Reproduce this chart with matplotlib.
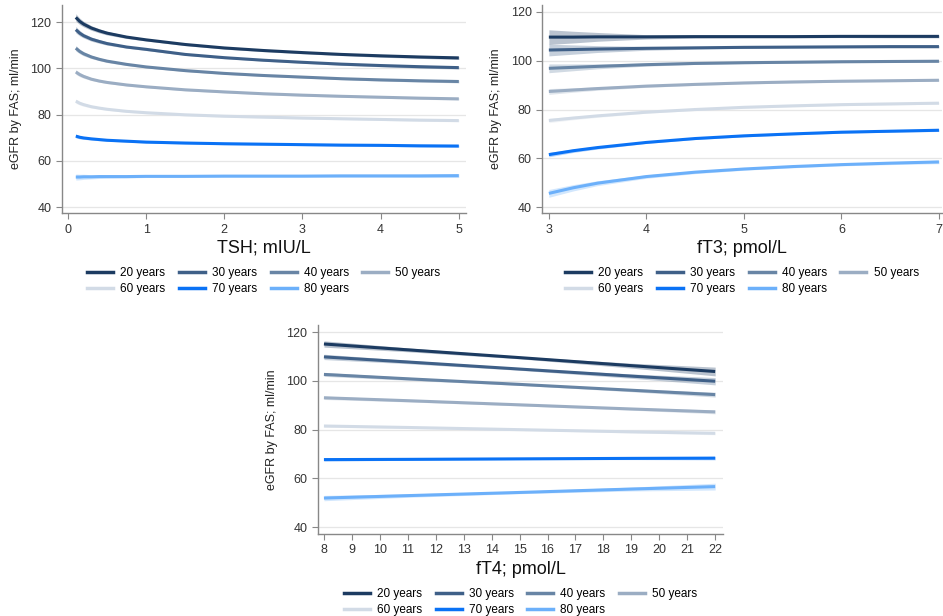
import numpy as np
import matplotlib.pyplot as plt
from matplotlib.lines import Line2D

ages = ['20 years', '30 years', '40 years', '50 years', '60 years', '70 years', '80 years']
colors = ['#1c3b61', '#3f6088', '#6885a5', '#9badc3', '#d2dbe6', '#0a72f5', '#6cb0fa']

# TSH panel
tsh_x = [0.1, 0.15, 0.2, 0.3, 0.4, 0.5, 0.75, 1, 1.5, 2, 2.5, 3, 3.5, 4, 4.5, 5]
tsh_fit = [
    [122.0, 120.3, 119.1, 117.4, 116.2, 115.2, 113.5, 112.3, 110.3, 108.8, 107.7, 106.8, 106.0, 105.4, 104.9, 104.5],
    [116.7, 115.2, 114.1, 112.6, 111.6, 110.7, 109.2, 108.2, 106.0, 104.6, 103.5, 102.6, 101.8, 101.2, 100.7, 100.3],
    [108.7, 107.3, 106.3, 104.9, 103.9, 103.1, 101.7, 100.6, 99.0, 97.8, 96.9, 96.2, 95.5, 95.0, 94.6, 94.3],
    [98.4, 97.3, 96.5, 95.3, 94.5, 93.9, 92.8, 92.0, 90.7, 89.8, 89.0, 88.4, 87.9, 87.5, 87.1, 86.8],
    [85.8, 84.9, 84.3, 83.4, 82.8, 82.3, 81.4, 80.8, 79.9, 79.3, 78.9, 78.5, 78.2, 77.9, 77.6, 77.4],
    [70.7, 70.2, 69.9, 69.5, 69.2, 68.9, 68.5, 68.1, 67.7, 67.4, 67.2, 67.0, 66.8, 66.7, 66.5, 66.4],
    [53.0, 53.0, 53.1, 53.1, 53.2, 53.2, 53.2, 53.3, 53.3, 53.4, 53.4, 53.4, 53.5, 53.5, 53.5, 53.6],
]
tsh_ci = [
    [1.6, 1.4, 1.2, 1.0, 0.9, 0.8, 0.6, 0.5, 0.5, 0.5, 0.5, 0.5, 0.5, 0.6, 0.6, 0.7],
    [1.4, 1.2, 1.0, 0.9, 0.8, 0.7, 0.5, 0.5, 0.4, 0.4, 0.4, 0.4, 0.5, 0.5, 0.6, 0.6],
    [1.2, 1.0, 0.9, 0.7, 0.6, 0.6, 0.5, 0.4, 0.4, 0.4, 0.4, 0.4, 0.4, 0.5, 0.5, 0.6],
    [1.0, 0.9, 0.8, 0.6, 0.5, 0.5, 0.4, 0.4, 0.4, 0.4, 0.4, 0.4, 0.4, 0.4, 0.5, 0.5],
    [0.9, 0.8, 0.7, 0.6, 0.5, 0.5, 0.4, 0.4, 0.4, 0.4, 0.4, 0.4, 0.4, 0.4, 0.5, 0.5],
    [0.8, 0.7, 0.6, 0.5, 0.5, 0.4, 0.4, 0.4, 0.4, 0.4, 0.4, 0.4, 0.4, 0.4, 0.5, 0.5],
    [1.3, 1.2, 1.1, 0.9, 0.8, 0.7, 0.6, 0.5, 0.5, 0.5, 0.5, 0.5, 0.6, 0.6, 0.7, 0.8],
]

# fT3 panel
ft3_x = [3, 3.25, 3.5, 4, 4.5, 5, 5.5, 6, 6.5, 7]
ft3_fit = [
    [109.7, 109.7, 109.8, 109.8, 109.9, 109.9, 109.9, 110.0, 110.0, 110.0],
    [104.4, 104.6, 104.8, 105.1, 105.3, 105.5, 105.6, 105.7, 105.8, 105.8],
    [96.9, 97.3, 97.7, 98.4, 98.9, 99.2, 99.4, 99.6, 99.7, 99.8],
    [87.4, 88.0, 88.6, 89.6, 90.3, 90.9, 91.3, 91.6, 91.8, 92.0],
    [75.5, 76.5, 77.4, 78.9, 80.0, 80.9, 81.5, 82.0, 82.3, 82.6],
    [61.5, 63.1, 64.4, 66.5, 68.1, 69.2, 70.0, 70.7, 71.1, 71.5],
    [45.6, 47.9, 49.8, 52.5, 54.3, 55.6, 56.6, 57.4, 58.0, 58.5],
]
ft3_ci = [
    [3.0, 2.4, 1.8, 0.9, 0.6, 0.5, 0.5, 0.5, 0.6, 0.6],
    [2.4, 1.9, 1.4, 0.8, 0.5, 0.4, 0.4, 0.4, 0.5, 0.5],
    [1.8, 1.4, 1.0, 0.6, 0.4, 0.4, 0.4, 0.4, 0.4, 0.5],
    [1.2, 0.9, 0.7, 0.5, 0.4, 0.4, 0.4, 0.4, 0.4, 0.4],
    [0.9, 0.7, 0.6, 0.4, 0.4, 0.4, 0.4, 0.4, 0.4, 0.4],
    [0.9, 0.7, 0.6, 0.4, 0.4, 0.4, 0.4, 0.4, 0.4, 0.5],
    [1.6, 1.3, 1.0, 0.7, 0.6, 0.5, 0.5, 0.5, 0.6, 0.7],
]

# fT4 panel
ft4_x = [8, 11, 15, 19, 22]
ft4_fit = [
    [115.2, 112.8, 109.6, 106.3, 103.9],
    [109.9, 107.8, 104.9, 102.0, 99.9],
    [102.7, 100.9, 98.6, 96.2, 94.4],
    [93.1, 91.9, 90.2, 88.5, 87.3],
    [81.5, 80.9, 80.0, 79.1, 78.5],
    [67.7, 67.8, 68.0, 68.2, 68.3],
    [51.9, 52.9, 54.2, 55.6, 56.6],
]
ft4_ci = [
    [1.3, 0.8, 0.5, 1.0, 1.8],
    [1.1, 0.7, 0.5, 0.9, 1.5],
    [0.8, 0.6, 0.4, 0.6, 1.0],
    [0.7, 0.5, 0.4, 0.5, 0.8],
    [0.5, 0.4, 0.3, 0.4, 0.6],
    [0.6, 0.4, 0.3, 0.5, 0.7],
    [1.1, 0.7, 0.5, 0.8, 1.4],
]

fig = plt.figure(figsize=(9.43, 6.16), dpi=100)
plt.rcParams['font.family'] = ['Liberation Sans', 'DejaVu Sans']

panels = [
    (tsh_x, tsh_fit, tsh_ci, 'TSH; mIU/L', [0.0657, 0.654, 0.4283, 0.338], (-0.077, 5.09), (37.4, 127.4), [0, 1, 2, 3, 4, 5]),
    (ft3_x, ft3_fit, ft3_ci, 'fT3; pmol/L', [0.5748, 0.654, 0.424, 0.338], (2.93, 7.03), (37.5, 122.9), [3, 4, 5, 6, 7]),
    (ft4_x, ft4_fit, ft4_ci, 'fT4; pmol/L', [0.337, 0.133, 0.43, 0.339], (7.78, 22.29), (37.1, 122.9), list(range(8, 23))),
]

# legend order so that rows read 20,30,40,50 / 60,70,80
leg_order = [0, 4, 1, 5, 2, 6, 3]

for x, fit, ci, xlab, pos, xlim, ylim, xt in panels:
    ax = fig.add_axes(pos)
    for i in range(len(ages)):
        y = np.array(fit[i])
        c = np.array(ci[i])
        ax.fill_between(x, y - c, y + c, color=colors[i], alpha=0.3, lw=0)
        ax.plot(x, y, color=colors[i], lw=2.2, solid_capstyle='butt')
    ax.set_xlim(*xlim)
    ax.set_ylim(*ylim)
    ax.set_yticks([40, 60, 80, 100, 120])
    ax.set_xticks(xt)
    ax.grid(axis='y', color='#e6e6e6', lw=0.9)
    ax.set_axisbelow(True)
    for s in ['top', 'right']:
        ax.spines[s].set_visible(False)
    for s in ['left', 'bottom']:
        ax.spines[s].set_color('#888888')
        ax.spines[s].set_linewidth(1.0)
    ax.tick_params(colors='#888888', labelcolor='#333333', labelsize=9, length=4, width=0.8)
    ax.set_xlabel(xlab, fontsize=13, color='#111111', labelpad=3)
    ax.set_ylabel('eGFR by FAS; ml/min', fontsize=9, color='#222222', labelpad=6)

    handles = [Line2D([], [], color=colors[i], lw=2.5) for i in leg_order]
    labels = [ages[i] for i in leg_order]
    lx = pos[0] + pos[2] / 2
    ly = pos[1] - 0.071
    fig.legend(handles, labels, ncol=4, loc='upper center', bbox_to_anchor=(lx, ly),
               frameon=False, fontsize=8.5, handlelength=2.2, handletextpad=0.6,
               columnspacing=1.15, labelspacing=0.3)

fig.savefig('out.png', dpi=100)
